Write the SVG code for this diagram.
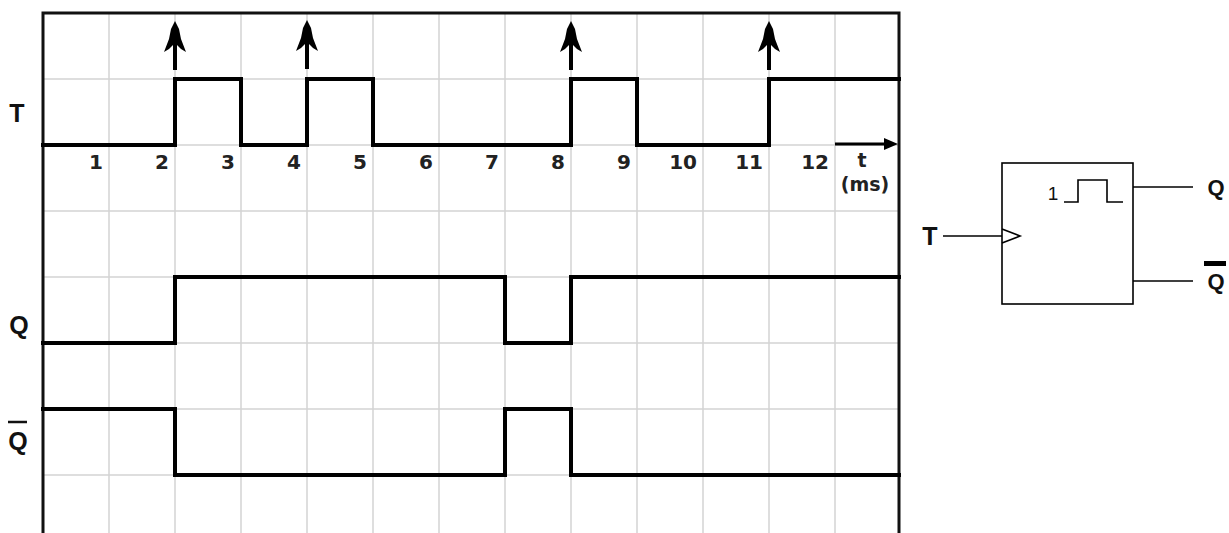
<svg xmlns="http://www.w3.org/2000/svg" width="1229" height="533" viewBox="0 0 1229 533">
<style>
.grid{stroke:#d4d4d4;stroke-width:1.5;fill:none}
.border{stroke:#111;stroke-width:3;fill:none}
.wave{stroke:#000;stroke-width:4;fill:none;stroke-linejoin:miter;stroke-linecap:square}
.thin{stroke:#000;stroke-width:1.6;fill:none}
.num{font-family:"DejaVu Sans",Verdana,sans-serif;font-weight:bold;font-size:20px;fill:#222;text-anchor:end}
.unit{font-family:"DejaVu Sans",Verdana,sans-serif;font-weight:bold;font-size:19px;fill:#222;text-anchor:middle}
.lbl{font-family:"Liberation Sans",Arial,sans-serif;font-weight:bold;font-size:25px;fill:#111;text-anchor:middle}
.plbl{font-family:"Liberation Sans",Arial,sans-serif;font-weight:bold;font-size:22px;fill:#111;text-anchor:middle}
</style>
<defs>
<path id="clk" d="M0,0 L4,8 L6,18 L11,31 L6,28 L2,24 L2,49 L-2,49 L-2,24 L-6,28 L-11,31 L-6,18 L-4,8 Z" fill="#000"/>
</defs>
<rect width="1229" height="533" fill="#fff"/>
<g id="grid">
<path class="grid" d="M109,13V533M175,13V533M241,13V533M307,13V533M373,13V533M439,13V533M505,13V533M571,13V533M637,13V533M703,13V533M769,13V533M835,13V533"/>
<path class="grid" d="M43,79H899M43,145H899M43,211H899M43,277H899M43,343H899M43,409H899M43,475H899"/>
<path class="border" d="M43,533V13H899V533"/>
</g>
<g id="axis">
<g class="num">
<text x="103" y="169">1</text>
<text x="169" y="169">2</text>
<text x="235" y="169">3</text>
<text x="301" y="169">4</text>
<text x="367" y="169">5</text>
<text x="433" y="169">6</text>
<text x="499" y="169">7</text>
<text x="565" y="169">8</text>
<text x="631" y="169">9</text>
<text x="697" y="169">10</text>
<text x="763" y="169">11</text>
<text x="829" y="169">12</text>
</g>
<text class="unit" x="862" y="167">t</text>
<text class="unit" x="865" y="191">(ms)</text>
<line x1="835" y1="144" x2="888" y2="144" stroke="#000" stroke-width="3"/>
<polygon points="898,144 884,138 884,150" fill="#000"/>
</g>
<g id="signal-T">
<text class="lbl" x="17" y="122">T</text>
<path class="wave" d="M43,145H175V79H241V145H307V79H373V145H571V79H637V145H769V79H899"/>
<use href="#clk" x="175" y="21"/>
<use href="#clk" x="307" y="20"/>
<use href="#clk" x="571" y="21"/>
<use href="#clk" x="769" y="21"/>
</g>
<g id="signal-Q">
<text class="lbl" x="19" y="334">Q</text>
<path class="wave" d="M43,343H175V277H505V343H571V277H899"/>
</g>
<g id="signal-Qbar">
<text class="lbl" x="18" y="450">Q</text>
<line x1="8" y1="422" x2="27" y2="422" stroke="#111" stroke-width="2.5"/>
<path class="wave" d="M43,409H175V475H505V409H571V475H899"/>
</g>
<g id="flipflop">
<rect x="1002" y="163" width="131" height="141" class="thin" stroke-width="2"/>
<polyline class="thin" points="1002,229 1020,236 1002,243"/>
<text x="1053" y="200" font-family="Liberation Sans,Arial,sans-serif" font-size="19" text-anchor="middle" fill="#111">1</text>
<polyline class="thin" points="1064,202 1078,202 1078,180 1107,180 1107,202 1123,202"/>
</g>
<g id="connectors">
<line class="thin" x1="943" y1="236" x2="1002" y2="236"/>
<line class="thin" x1="1133" y1="187" x2="1193" y2="187"/>
<line class="thin" x1="1133" y1="281" x2="1193" y2="281"/>
</g>
<g id="port-T"><text class="lbl" x="930" y="245">T</text></g>
<g id="port-Q"><text class="plbl" x="1216" y="195">Q</text></g>
<g id="port-Qbar">
<text class="plbl" x="1216" y="289">Q</text>
<rect x="1204" y="261" width="22" height="5" fill="#000"/>
</g>
</svg>
